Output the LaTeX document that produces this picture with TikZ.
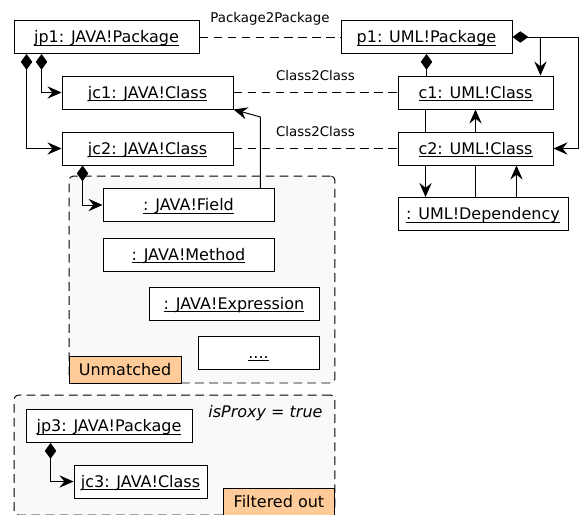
\documentclass[tikz,border=0pt]{standalone}
\usepackage{fontspec}
\setmainfont{DejaVu Sans}
\setsansfont{DejaVu Sans}
\usetikzlibrary{arrows.meta}
\definecolor{tagorange}{HTML}{FFCC99}
\definecolor{groupgray}{HTML}{F9F9F9}
\newcommand{\objname}[1]{\underline{\smash{#1}}}

\begin{document}
\begin{tikzpicture}[x=0.02cm,y=-0.02cm,font=\sf\fontsize{9.1}{11}\selectfont,line width=0.55pt,
    obj/.style={draw,fill=white,minimum height=0.66cm,inner sep=0pt,text height=6.5pt,text depth=0pt},
    group/.style={draw,dash pattern=on 5pt off 3pt,rounded corners=2.5pt,fill=groupgray,inner sep=0pt},
    tag/.style={draw,fill=tagorange,minimum width=2.24cm,minimum height=0.53cm,inner sep=0pt},
    trace/.style={dash pattern=on 5pt off 3pt},
    lbl/.style={font=\sf\fontsize{7.6}{9}\selectfont,above=3pt},
    arr/.style={-{Stealth[length=8pt,width=7pt,inset=2.8pt]}},
    own/.style={{Diamond[length=9pt,width=6.5pt]}-},
    comp/.style={{Diamond[length=9pt,width=6.5pt]}-{Stealth[length=8pt,width=7pt,inset=2.8pt]}}]
            \useasboundingbox (0,0) rectangle (580,514);

            % groups
            \node[group,minimum width=5.32cm,minimum height=4.14cm] (unmatched) at (202,279.5) {};
            \node[group,minimum width=6.42cm,minimum height=2.4cm] (filtered) at (174.5,455) {};
            \node[tag,anchor=south west] (unmtag) at (unmatched.south west) {Unmatched};
            \node[tag,anchor=south east] (filtag) at (filtered.south east) {Filtered out};
            \node (proxy) at (265.5,413) {\itshape isProxy = true};

            % objects
            \node[obj,minimum width=3.7cm] (jp1) at (106.5,37) {\objname{jp1: JAVA!Package}};
            \node[obj,minimum width=3.42cm] (p1) at (426.5,37) {\objname{p1: UML!Package}};
            \node[obj,minimum width=3.42cm] (jc1) at (147.5,92.5) {\objname{jc1: JAVA!Class}};
            \node[obj,minimum width=3.42cm] (jc2) at (147.5,148.5) {\objname{jc2: JAVA!Class}};
            \node[obj,minimum width=3.1cm] (c1) at (475.5,92.5) {\objname{c1: UML!Class}};
            \node[obj,minimum width=3.1cm] (c2) at (475.5,148.5) {\objname{c2: UML!Class}};
            \node[obj,minimum width=3.4cm] (dep) at (483,214) {\objname{: UML!Dependency}};
            \node[obj,minimum width=3.42cm] (field) at (188.5,205) {\objname{: JAVA!Field}};
            \node[obj,minimum width=3.42cm] (method) at (188.5,254.5) {\objname{: JAVA!Method}};
            \node[obj,minimum width=3.4cm] (expr) at (234,303.5) {\objname{: JAVA!Expression}};
            \node[obj,minimum width=2.42cm] (more) at (258.5,352.5) {\objname{....}};
            \node[obj,minimum width=3.32cm] (jp3) at (109,426) {\objname{jp3: JAVA!Package}};
            \node[obj,minimum width=2.66cm] (jc3) at (140.5,481.5) {\objname{jc3: JAVA!Class}};

            % traces
            \draw[trace] (jp1) -- node[lbl]{Package2Package} (p1);
            \draw[trace] (jc1) -- node[lbl]{Class2Class} (c1);
            \draw[trace] (jc2) -- node[lbl]{Class2Class} (c2);

            % java side
            \draw[comp] ([xshift=0.56cm]jp1.south west) |- (jc1);
            \draw[comp] ([xshift=0.26cm]jp1.south west) |- (jc2);
            \draw[comp] ([xshift=0.42cm]jc2.south west) |- (field);
            \draw[comp] ([xshift=0.5cm]jp3.south west) |- (jc3);
            \draw[arr] ([xshift=-0.28cm]field.north east) -- ++(0,-71) -- (jc1.south east);

            % uml side
            \draw[own] (p1.south) -- (p1.south |- c1.north);
            \draw[comp] (p1.east) -- ++(66,0) |- (c2);
            \draw[arr] ([xshift=0.56cm]p1.east) -- ([xshift=-0.26cm]c1.north east);
            \draw ([xshift=0.56cm]c1.south west) -- ([xshift=0.56cm]c2.north west);
            \draw[arr] (c2.north) -- (c1.south);
            \draw[arr] ([xshift=0.56cm]c2.south west) -- ([xshift=0.56cm]c2.south west |- dep.north);
            \draw (c2.south) -- (c2.south |- dep.north);
            \draw[arr] ([xshift=-0.74cm]c2.south east |- dep.north) -- ([xshift=-0.74cm]c2.south east);
        \end{tikzpicture}
\end{document}
